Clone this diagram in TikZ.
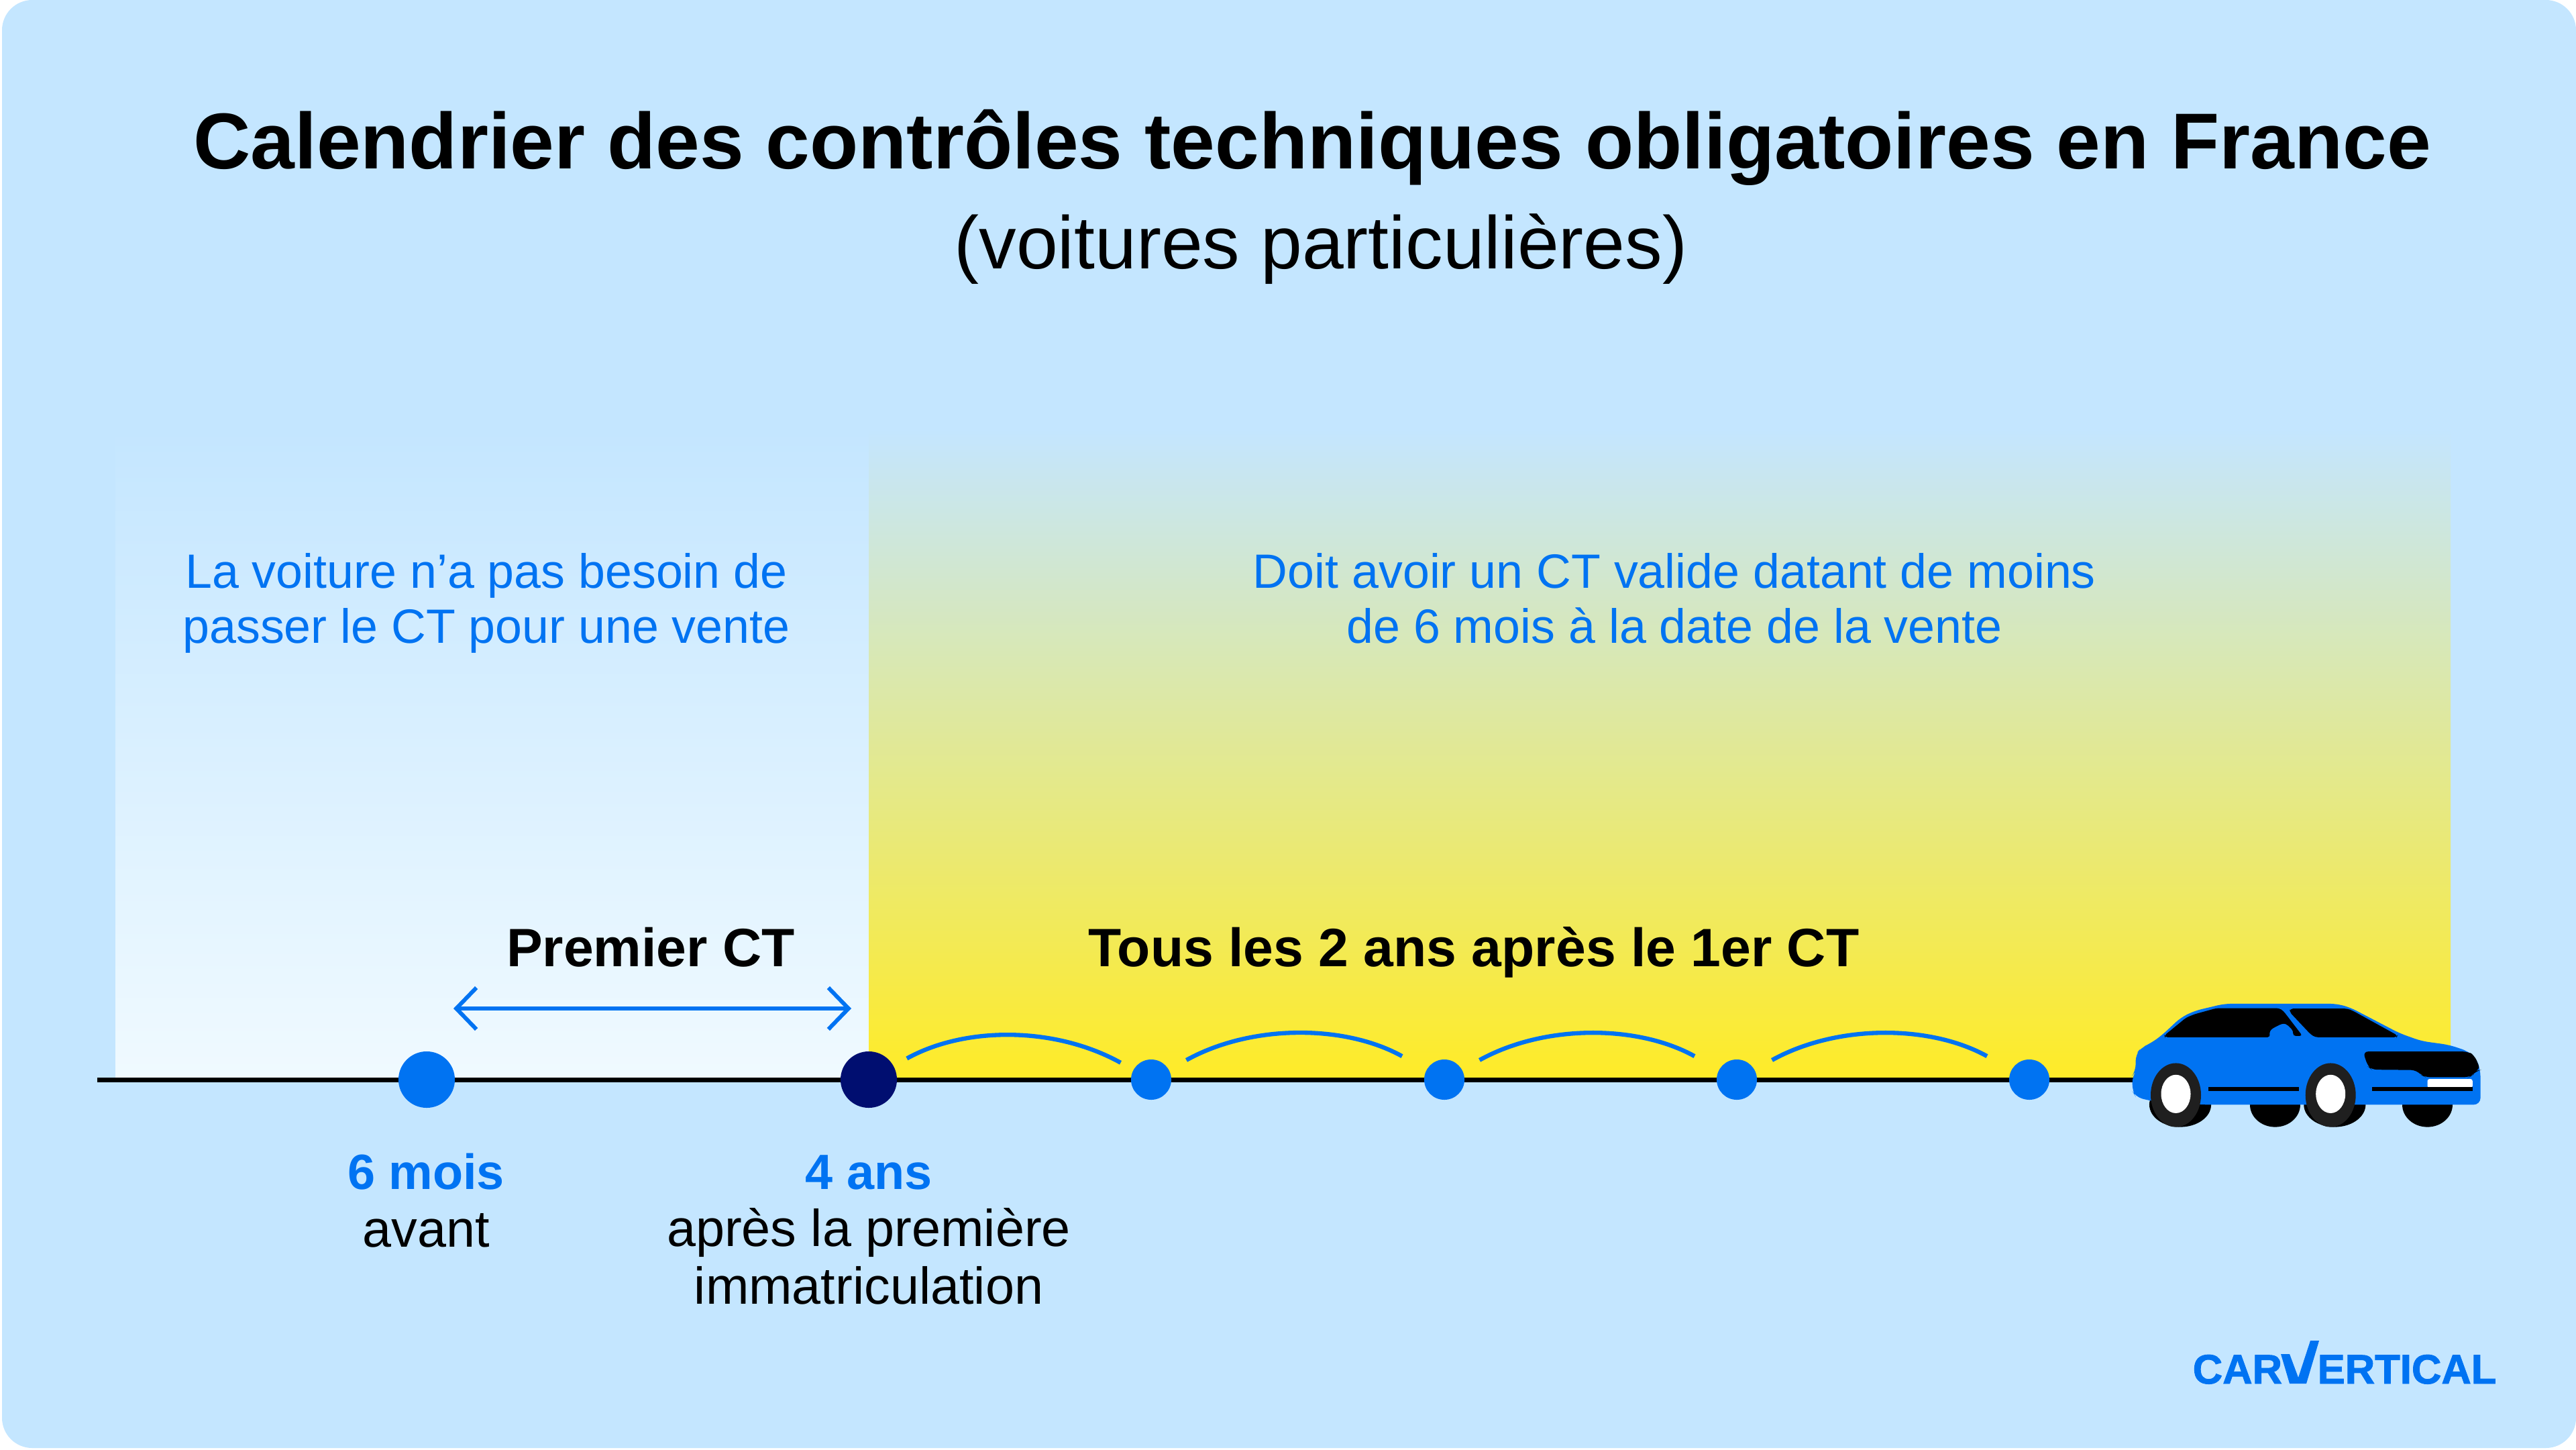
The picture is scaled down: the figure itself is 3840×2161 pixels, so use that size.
\documentclass[tikz,border=0pt]{standalone}
\usepackage{fontspec}
\setmainfont{Liberation Sans}
\newfontfamily\logofont[BoldFeatures={FakeBold=1.5}]{Liberation Sans}
\usetikzlibrary{arrows.meta}
\definecolor{skybg}{HTML}{C4E6FF}
\definecolor{paleend}{HTML}{F0FAFF}
\definecolor{yellowend}{HTML}{FFEB27}
\definecolor{cvblue}{HTML}{0073F2}
\definecolor{cvnavy}{HTML}{000E70}
\definecolor{tyre}{HTML}{1F1F1F}
\tikzset{
  titletext/.style={anchor=base,inner sep=0,font=\fontsize{33.6}{38}\selectfont\bfseries},
  subtext/.style={anchor=base,inner sep=0,font=\fontsize{31.6}{36}\selectfont},
  notetext/.style={anchor=base,inner sep=0,align=center,text=cvblue,font=\fontsize{20.4}{23.2}\selectfont},
  headtext/.style={anchor=base,inner sep=0,font=\fontsize{22.9}{26}\selectfont\bfseries},
  whentext/.style={anchor=base,inner sep=0,text=cvblue,font=\fontsize{21}{24}\selectfont\bfseries},
  whattext/.style={anchor=base,inner sep=0,align=center,font=\fontsize{22}{24.2}\selectfont},
  logotext/.style={anchor=base west,inner sep=0,text=cvblue,font=\fontsize{17.5}{20}\selectfont\logofont\bfseries},
  timeline/.style={line width=2pt,black},
  spanarrow/.style={line width=1.7pt,cvblue,{Straight Barb[length=0.3cm,width=0.62cm]}-{Straight Barb[length=0.3cm,width=0.62cm]}},
  hopline/.style={line width=1.8pt,cvblue,bend left=29},
  bigdot/.style={circle,inner sep=0,minimum size=0.84cm},
  smalldot/.style={circle,inner sep=0,minimum size=0.6cm,fill=cvblue},
}
\begin{document}
\begin{tikzpicture}[x=0.01cm,y=-0.01cm]
            \useasboundingbox (0,0) rectangle (3840,2161);
            \fill[white] (0,0) rectangle (3840,2161);
            \fill[skybg,rounded corners=0.45cm] (3,0) rectangle (3840,2158);
            \shade[top color=skybg,bottom color=paleend] (172,640) rectangle (1295,1609);
            \shade[top color=skybg,bottom color=yellowend] (1295,640) rectangle (3653,1609);
            \node[titletext] (title) at (1956,252) {Calendrier des contrôles techniques obligatoires en France};
            \node[subtext] (subtitle) at (1969,400) {(voitures particulières)};
            \node[notetext] (noteleft) at (725,958) {La voiture n’a pas besoin de\\passer le CT pour une vente};
            \node[notetext] (noteright) at (2496,958) {Doit avoir un CT valide datant de moins\\de 6 mois à la date de la vente};
            \node[headtext] (headfirst) at (970,1440) {Premier CT};
            \node[headtext] (headnext) at (2197,1440) {Tous les 2 ans après le 1er CT};
            \coordinate (linestart) at (145,1609);
            \coordinate (lineend) at (3200,1609);
            \draw[timeline] (linestart) -- (lineend);
            \node[bigdot,fill=cvblue] (dotsix) at (636,1609) {};
            \node[bigdot,fill=cvnavy] (dotfour) at (1295,1609) {};
            \node[smalldot] (dota) at (1716,1609) {};
            \node[smalldot] (dotb) at (2153,1609) {};
            \node[smalldot] (dotc) at (2589,1609) {};
            \node[smalldot] (dotd) at (3025,1609) {};
            \coordinate (spanleft) at (676,1503);
            \coordinate (spanright) at (1269,1503);
            \draw[spanarrow] (spanleft) -- (spanright);
            \draw[hopline,shorten <=0.65cm,shorten >=0.52cm] (dotfour.center) to (dota.center);
            \draw[hopline,shorten <=0.6cm,shorten >=0.72cm] (dota.center) to (dotb.center);
            \draw[hopline,shorten <=0.6cm,shorten >=0.72cm] (dotb.center) to (dotc.center);
            \draw[hopline,shorten <=0.6cm,shorten >=0.72cm] (dotc.center) to (dotd.center);
            \node[whentext] (whensix) at (635,1772) {6 mois};
            \node[whattext] (whatsix) at (635,1858) {avant};
            \node[whentext] (whenfour) at (1295,1772) {4 ans};
            \node[whattext] (whatfour) at (1295,1943) {après la première\\immatriculation};
            \begin{scope}[shift={(3100,1440)},x=0.00408cm,y=-0.00333cm]
                \fill[black] (368,620) ellipse (113 and 100);
                \fill[black] (715,620) ellipse (92 and 100);
                \fill[black] (933,620) ellipse (113 and 100);
                \fill[black] (1272,620) ellipse (92 and 100);
                \fill[cvblue,rounded corners=0.1cm] (258,603) -- (205,585) -- (193,560) -- (193,490) -- (205,470) -- (205,395) -- (225,365) -- (260,345) -- (300,310) -- (370,230) -- (420,200) -- (530,168) -- (940,168) -- (990,185) -- (1170,300) -- (1250,335) -- (1350,352) -- (1420,380) -- (1450,410) -- (1466,465) -- (1466,620) -- (450,620) -- cycle;
                \fill[black,rounded corners=0.04cm] (312,318) -- (310,310) -- (390,230) -- (420,215) -- (500,188) -- (730,188) -- (745,200) -- (815,312) -- (780,312) -- (782,290) -- (755,257) -- (740,257) -- (700,282) -- (693,300) -- (697,318) -- cycle;
                \fill[black,rounded corners=0.04cm] (770,190) -- (980,190) -- (1000,200) -- (1163,310) -- (1160,318) -- (862,318) -- (845,305) -- (768,205) -- cycle;
                \fill[black,rounded corners=0.08cm] (1036,382) -- (1420,382) -- (1445,400) -- (1466,465) -- (1450,468) -- (1435,490) -- (1425,497) -- (1265,497) -- (1250,488) -- (1232,465) -- (1068,463) -- (1055,450) -- cycle;
                \fill[white,rounded corners=0.03cm] (1272,545) -- (1272,505) -- (1437,505) -- (1437,545) -- cycle;
                \fill[black] (470,542) rectangle (803,558);
                \fill[black] (1070,542) rectangle (1437,558);
                \fill[tyre] (352,577) ellipse (92 and 143);
                \fill[tyre] (918,577) ellipse (92 and 143);
                \fill[white] (352,572) ellipse (54 and 86);
                \fill[white] (918,572) ellipse (54 and 86);
            \end{scope}
            \node[logotext] (logocar) at (3268,2062) {CAR};
            \node[logotext] (logortical) at (3454,2062) {ERTICAL};
            \fill[cvblue] (3400,2018) -- (3413,2018) -- (3426,2053) -- (3444,1998) -- (3457,1998) -- (3438,2062) -- (3413,2062) -- cycle;
        \end{tikzpicture}
\end{document}
